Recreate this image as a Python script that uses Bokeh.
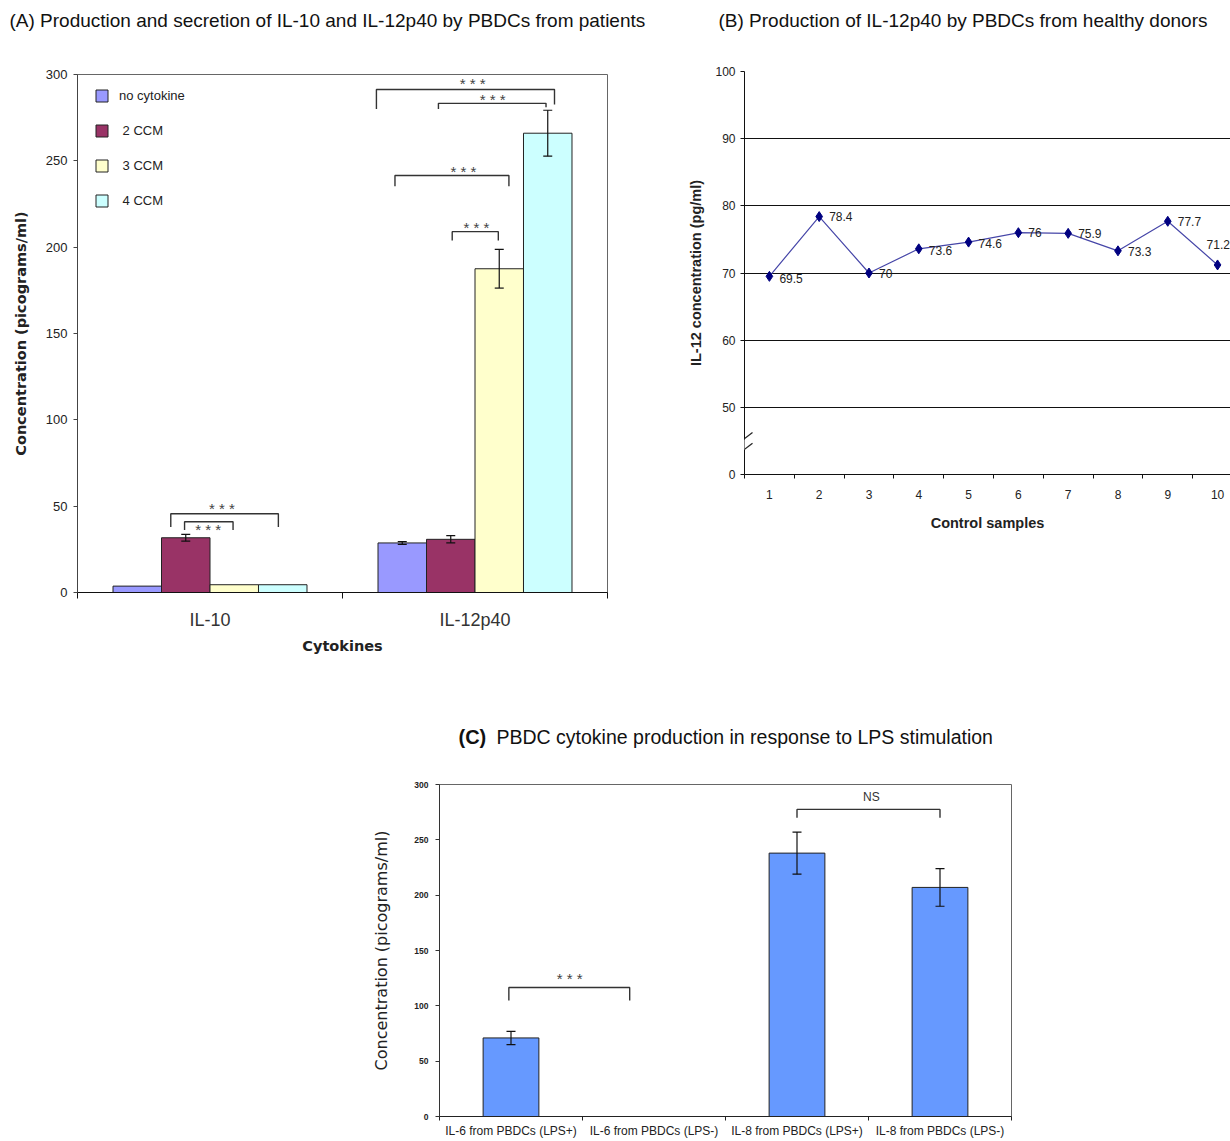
from bokeh.plotting import figure
from bokeh.models import (ColumnDataSource, FixedTicker, Whisker, TeeHead,
                          Arrow, Spacer, Range1d)
from bokeh.layouts import row, column
from bokeh.embed import file_html
from bokeh.resources import INLINE
from bokeh.core.properties import value

# ---------------- Panel A data ----------------
a_categories = ["IL-10", "IL-12p40"]
a_series = ["no cytokine", " 2 CCM", " 3 CCM", " 4 CCM"]
a_no_cytokine = [3.7, 28.7]
a_2ccm = [31.7, 30.8]
a_3ccm = [4.5, 187.5]
a_4ccm = [4.5, 266.0]
a_no_cytokine_err = [0.0, 0.8]
a_2ccm_err = [2.0, 2.1]
a_3ccm_err = [0.0, 11.2]
a_4ccm_err = [0.0, 13.3]
a_colors = ["#9999FF", "#993366", "#FFFFCC", "#CCFFFF"]

# significance brackets (x in category units, y in pg/ml)
a_br_x0 = [0.352, 0.404, 1.128, 1.362, 1.198, 1.414]
a_br_x1 = [0.758, 0.587, 1.800, 1.768, 1.628, 1.588]
a_br_top = [45.6, 41.0, 291.3, 283.3, 241.5, 209.0]
a_br_left_end = [38.0, 36.2, 280.0, 280.0, 235.3, 203.8]
a_br_right_end = [38.0, 36.2, 282.6, 281.0, 235.3, 203.8]
a_star_x = [0.545, 0.493, 1.491, 1.567, 1.456, 1.505]
a_star_y = [50.6, 38.0, 296.5, 287.5, 245.3, 213.4]
a_star_text = ["* * *"] * 6

# ---------------- Panel B data ----------------
b_samples = [1, 2, 3, 4, 5, 6, 7, 8, 9, 10]
b_il12 = [69.5, 78.4, 70, 73.6, 74.6, 76, 75.9, 73.3, 77.7, 71.2]
b_yticks = [40, 50, 60, 70, 80, 90, 100]
b_ytick_labels = ["0", "50", "60", "70", "80", "90", "100"]

# ---------------- Panel C data ----------------
c_categories = ["IL-6 from PBDCs (LPS+)", "IL-6 from PBDCs (LPS-)",
                "IL-8 from PBDCs (LPS+)", "IL-8 from PBDCs (LPS-)"]
c_values = [71, 0, 238, 207]
c_errors = [6, 0, 19, 17]
c_br_x0 = [0.485, 2.5]
c_br_x1 = [1.33, 3.5]
c_br_top = [116.6, 277.5]
c_br_left_end = [104.8, 270.0]
c_br_right_end = [104.8, 270.0]
c_br_text = ["* * *", "NS"]
c_br_text_x = [0.91, 3.02]
c_br_text_y = [127.0, 289.0]

title_a = "(A) Production and secretion of IL-10 and IL-12p40 by PBDCs from patients"
title_b = "(B) Production of IL-12p40 by PBDCs from healthy donors"
title_c_tag = "(C)"
title_c = "PBDC cytokine production in response to LPS stimulation"

SANS = "Liberation Sans"
VERD = "DejaVu Sans"


def bracket_source(x0, x1, top, le, re):
    xs = [[a, a, b, b] for a, b in zip(x0, x1)]
    ys = [[l, t, t, r] for l, t, r in zip(le, top, re)]
    return ColumnDataSource(dict(xs=xs, ys=ys))


def whiskers(p, xs, vals, errs):
    keep = [i for i, e in enumerate(errs) if e > 0]
    src = ColumnDataSource(dict(
        x=[xs[i] for i in keep],
        upper=[vals[i] + errs[i] for i in keep],
        lower=[vals[i] - errs[i] for i in keep]))
    w = Whisker(source=src, base="x", upper="upper", lower="lower", level="annotation",
                line_color="#111111", line_width=1.2,
                upper_head=TeeHead(size=9, line_color="#111111", line_width=1.2),
                lower_head=TeeHead(size=9, line_color="#111111", line_width=1.2))
    p.add_layout(w)


def title_strip(width, height):
    t = figure(width=width, height=height, x_range=Range1d(0, width), y_range=Range1d(0, height),
               output_backend="svg", toolbar_location=None, x_axis_type=None, y_axis_type=None,
               min_border=0)
    t.outline_line_color = None
    t.xgrid.visible = False
    t.ygrid.visible = False
    return t


# =============== Title strips (full width) ===============
tTop = title_strip(1230, 40)
tTop.text(x=[9, 718], y=[20, 20], text=[title_a, title_b], text_baseline="middle",
          text_align="left", text_font=value(SANS), text_font_size="19px", text_color="#111111")
tMid = title_strip(1230, 90)
tMid.text(x=[458], y=[19], text=[title_c_tag], text_baseline="middle", text_align="left",
          text_font=value(SANS), text_font_style="bold", text_font_size="20px", text_color="#111111")
tMid.text(x=[496], y=[19], text=[title_c], text_baseline="middle", text_align="left",
          text_font=value(SANS), text_font_size="19.5px", text_color="#111111")

# =============== Panel A ===============
pA = figure(width=658, height=625, x_range=Range1d(0, 2), y_range=Range1d(0, 300),
            output_backend="svg", toolbar_location=None,
            min_border_left=77, min_border_right=51, min_border_top=34, min_border_bottom=73)
pA.xgrid.visible = False
pA.ygrid.visible = False
pA.outline_line_color = "#666666"

group_start = 0.134
bar_w = 0.183
a_vals = [a_no_cytokine, a_2ccm, a_3ccm, a_4ccm]
a_errs = [a_no_cytokine_err, a_2ccm_err, a_3ccm_err, a_4ccm_err]
for si, (name, vals, errs, col) in enumerate(zip(a_series, a_vals, a_errs, a_colors)):
    xs = [gi + group_start + (si + 0.5) * bar_w for gi in range(len(a_categories))]
    src = ColumnDataSource(dict(x=xs, top=vals))
    pA.vbar(x="x", top="top", width=bar_w, source=src, fill_color=col,
            line_color="#222222", line_width=1, legend_label=name)
    whiskers(pA, xs, vals, errs)

pA.multi_line(xs="xs", ys="ys", source=bracket_source(a_br_x0, a_br_x1, a_br_top,
              a_br_left_end, a_br_right_end), line_color="#333333", line_width=1.4)
pA.text(x=a_star_x, y=a_star_y, text=a_star_text, text_align="center",
        text_baseline="middle", text_font=value(SANS), text_font_size="15px",
        text_color="#444444", y_offset=3)

pA.xaxis.ticker = FixedTicker(ticks=[0.5, 1.5], minor_ticks=[0, 1, 2])
pA.xaxis.major_label_overrides = {0.5: a_categories[0], 1.5: a_categories[1]}
pA.xaxis.major_tick_out = 0
pA.xaxis.major_tick_in = 0
pA.xaxis.minor_tick_out = 6
pA.xaxis.minor_tick_in = 0
pA.xaxis.minor_tick_line_color = "#111111"
pA.xaxis.axis_line_color = "#111111"
pA.xaxis.major_label_text_font = SANS
pA.xaxis.major_label_text_font_size = "18px"
pA.xaxis.major_label_text_color = "#333333"
pA.xaxis.major_label_standoff = 11
pA.xaxis.axis_label = "Cytokines"
pA.xaxis.axis_label_text_font = VERD
pA.xaxis.axis_label_text_font_style = "bold"
pA.xaxis.axis_label_text_font_size = "14.5px"
pA.xaxis.axis_label_text_color = "#222222"
pA.xaxis.axis_label_standoff = 5

pA.yaxis.ticker = FixedTicker(ticks=[0, 50, 100, 150, 200, 250, 300])
pA.yaxis.minor_tick_line_color = None
pA.yaxis.major_tick_out = 4
pA.yaxis.major_tick_in = 0
pA.yaxis.axis_line_color = "#444444"
pA.yaxis.major_tick_line_color = "#444444"
pA.yaxis.major_label_text_font = SANS
pA.yaxis.major_label_text_font_size = "13px"
pA.yaxis.major_label_text_color = "#222222"
pA.yaxis.major_label_standoff = 6
pA.yaxis.axis_label = "Concentration (picograms/ml)"
pA.yaxis.axis_label_text_font = VERD
pA.yaxis.axis_label_text_font_style = "bold"
pA.yaxis.axis_label_text_font_size = "14.5px"
pA.yaxis.axis_label_text_color = "#222222"
pA.yaxis.axis_label_standoff = 14

lg = pA.legend[0]
lg.location = (17, 384)
lg.margin = 0
lg.padding = 0
lg.spacing = 20
lg.glyph_width = 15
lg.glyph_height = 15
lg.label_height = 15
lg.label_standoff = 10
lg.label_text_font = SANS
lg.label_text_font_size = "13px"
lg.label_text_color = "#222222"
lg.border_line_color = None
lg.background_fill_alpha = 0

# =============== Panel B ===============
pB = figure(width=554, height=504, x_range=Range1d(0.5, 10.26), y_range=Range1d(40, 100),
            output_backend="svg", toolbar_location=None,
            min_border_left=68, min_border_right=0, min_border_top=31, min_border_bottom=70)
pB.outline_line_color = None
pB.xgrid.visible = False
pB.ygrid.ticker = FixedTicker(ticks=[50, 60, 70, 80, 90, 100])
pB.ygrid.grid_line_color = "#111111"
pB.ygrid.grid_line_width = 1.2

srcB = ColumnDataSource(dict(x=b_samples, y=b_il12, lab=[f"{v:g}" for v in b_il12],
                             dx=[10, 10, 10, 10, 10, 10, 10, 10, 10, -11],
                             dy=[2, 0, 0, 2, 1, 0, 0, 1, 0, -20]))
pB.line(x="x", y="y", source=srcB, line_color="#4646A8", line_width=1.2)
pB.scatter(x="x", y="y", source=srcB, marker="diamond", size=10,
           fill_color="#000080", line_color="#000080")
pB.text(x="x", y="y", text="lab", source=srcB, x_offset="dx", y_offset="dy",
        text_align="left", text_baseline="middle", text_font=value(SANS),
        text_font_size="12px", text_color="#222222")

pB.xaxis.ticker = FixedTicker(ticks=b_samples, minor_ticks=[s - 0.5 for s in b_samples] + [10.5])
pB.xaxis.major_tick_out = 0
pB.xaxis.major_tick_in = 0
pB.xaxis.minor_tick_out = 4
pB.xaxis.minor_tick_in = 0
pB.xaxis.minor_tick_line_color = "#111111"
pB.xaxis.axis_line_color = "#111111"
pB.xaxis.major_label_text_font = SANS
pB.xaxis.major_label_text_font_size = "12px"
pB.xaxis.major_label_text_color = "#222222"
pB.xaxis.major_label_standoff = 11
pB.xaxis.axis_label = "Control samples"
pB.xaxis.axis_label_text_font = SANS
pB.xaxis.axis_label_text_font_style = "bold"
pB.xaxis.axis_label_text_font_size = "14.5px"
pB.xaxis.axis_label_text_color = "#222222"
pB.xaxis.axis_label_standoff = 13

pB.yaxis.ticker = FixedTicker(ticks=b_yticks)
pB.yaxis.major_label_overrides = {t: l for t, l in zip(b_yticks, b_ytick_labels)}
pB.yaxis.minor_tick_line_color = None
pB.yaxis.major_tick_out = 4
pB.yaxis.major_tick_in = 0
pB.yaxis.axis_line_color = "#111111"
pB.yaxis.major_tick_line_color = "#111111"
pB.yaxis.major_label_text_font = SANS
pB.yaxis.major_label_text_font_size = "12px"
pB.yaxis.major_label_text_color = "#222222"
pB.yaxis.major_label_standoff = 5
pB.yaxis.axis_label = "IL-12 concentration (pg/ml)"
pB.yaxis.axis_label_text_font = SANS
pB.yaxis.axis_label_text_font_style = "bold"
pB.yaxis.axis_label_text_font_size = "14.5px"
pB.yaxis.axis_label_text_color = "#222222"
pB.yaxis.axis_label_standoff = 8

# axis break mark
pB.add_layout(Arrow(x_start=0.5, y_start=43.7, x_end=0.5, y_end=45.2, end=None,
                    line_color="white", line_width=4, level="overlay"))
for (xa, ya, xb, yb) in [(0.319, 44.3, 0.661, 46.25), (0.319, 42.7, 0.661, 44.65)]:
    pB.add_layout(Arrow(x_start=xa, y_start=ya, x_end=xb, y_end=yb, end=None,
                        line_color="#222222", line_width=1.2, level="overlay"))

# =============== Panel C ===============
pC = figure(width=653, height=385, x_range=Range1d(0, 4), y_range=Range1d(0, 300),
            output_backend="svg", toolbar_location=None,
            min_border_left=71, min_border_right=10, min_border_top=29, min_border_bottom=10)
pC.xgrid.visible = False
pC.ygrid.visible = False
pC.outline_line_color = "#666666"

c_x = [i + 0.5 for i in range(len(c_categories))]
srcC = ColumnDataSource(dict(x=c_x, top=c_values))
pC.vbar(x="x", top="top", width=0.39, source=srcC, fill_color="#6699FF",
        line_color="#222222", line_width=1)
whiskers(pC, c_x, c_values, c_errors)
pC.multi_line(xs="xs", ys="ys", source=bracket_source(c_br_x0, c_br_x1, c_br_top,
              c_br_left_end, c_br_right_end), line_color="#333333", line_width=1.4)
pC.text(x=c_br_text_x[:1], y=c_br_text_y[:1], text=c_br_text[:1], text_align="center",
        text_baseline="middle", text_font=value(SANS), text_font_size="15px",
        text_color="#444444", y_offset=3)
pC.text(x=c_br_text_x[1:], y=c_br_text_y[1:], text=c_br_text[1:], text_align="center",
        text_baseline="middle", text_font=value(SANS), text_font_size="12px",
        text_color="#333333")

pC.xaxis.ticker = FixedTicker(ticks=c_x, minor_ticks=[0, 1, 2, 3, 4])
pC.xaxis.major_label_overrides = {x: c for x, c in zip(c_x, c_categories)}
pC.xaxis.major_tick_out = 0
pC.xaxis.major_tick_in = 0
pC.xaxis.minor_tick_out = 4
pC.xaxis.minor_tick_in = 0
pC.xaxis.minor_tick_line_color = "#222222"
pC.xaxis.axis_line_color = "#222222"
pC.xaxis.major_label_text_font = SANS
pC.xaxis.major_label_text_font_size = "12px"
pC.xaxis.major_label_text_color = "#222222"
pC.xaxis.major_label_standoff = 3

pC.yaxis.ticker = FixedTicker(ticks=[0, 50, 100, 150, 200, 250, 300])
pC.yaxis.minor_tick_line_color = None
pC.yaxis.major_tick_out = 4
pC.yaxis.major_tick_in = 0
pC.yaxis.axis_line_color = "#333333"
pC.yaxis.major_tick_line_color = "#333333"
pC.yaxis.major_label_text_font = SANS
pC.yaxis.major_label_text_font_style = "bold"
pC.yaxis.major_label_text_font_size = "8.5px"
pC.yaxis.major_label_text_color = "#222222"
pC.yaxis.major_label_standoff = 7
pC.yaxis.axis_label = "Concentration (picograms/ml)"
pC.yaxis.axis_label_text_font = VERD
pC.yaxis.axis_label_text_font_style = "normal"
pC.yaxis.axis_label_text_font_size = "16px"
pC.yaxis.axis_label_text_color = "#222222"
pC.yaxis.axis_label_standoff = 20

layout = column(
    tTop,
    row(pA, Spacer(width=18, height=1), column(pB)),
    tMid,
    row(Spacer(width=368, height=1), pC),
)

open("out.html", "w").write(file_html(layout, INLINE))
